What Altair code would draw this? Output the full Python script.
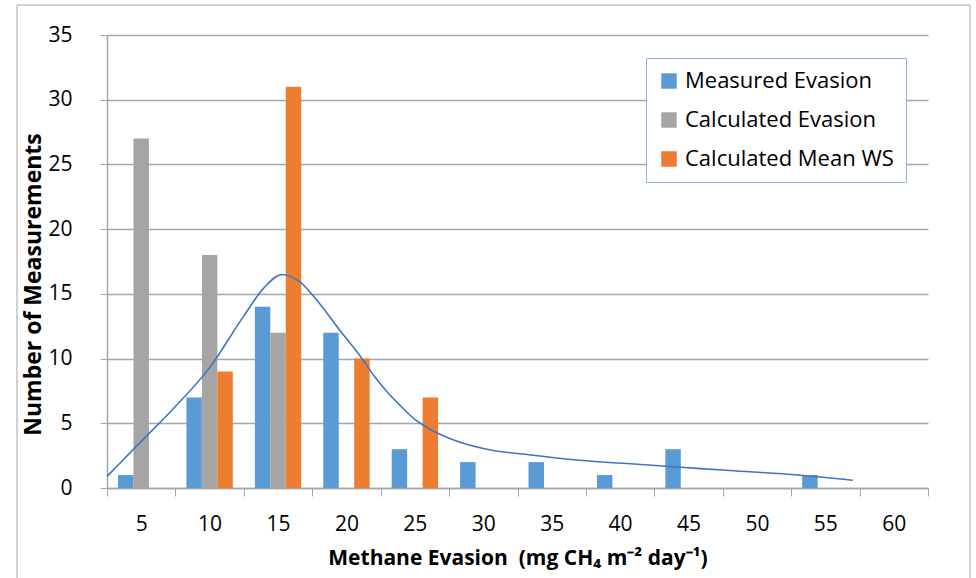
import altair as alt
import pandas as pd

# Histogram classes of methane evasion (mg CH4 m-2 day-1)
bins = [5, 10, 15, 20, 25, 30, 35, 40, 45, 50, 55, 60]
measured = [1, 7, 14, 12, 3, 2, 2, 1, 3, 0, 1, 0]
calc_evasion = [27, 18, 12, 0, 0, 0, 0, 0, 0, 0, 0, 0]
calc_mean_ws = [0, 9, 31, 10, 7, 0, 0, 0, 0, 0, 0, 0]

series_names = ["Measured Evasion", "Calculated Evasion", "Calculated Mean WS"]
series_colors = ["#5B9BD5", "#A5A5A5", "#ED7D31"]

# Smoothed fit through the measured distribution
curve_x = [2.5, 5, 7.5, 10, 12.5, 14, 15.3, 16.5, 18, 19.5, 21, 22, 23, 24, 25,
           26, 27.5, 30, 33.5, 37, 41, 44.5, 48, 53, 57]
curve_y = [0.9, 3.6, 6.3, 9.3, 13.3, 15.5, 16.5, 16.0, 14.3, 12.2, 10.2, 8.7,
           7.4, 6.3, 5.3, 4.6, 3.85, 3.05, 2.55, 2.15, 1.85, 1.6, 1.35, 1.0, 0.6]

FONT = "Open Sans"
BAR_W = 1.13  # bar width in x units (one class spans 5 units)

rows = []
for k, (name, vals) in enumerate(zip(series_names, [measured, calc_evasion, calc_mean_ws])):
    for b, v in zip(bins, vals):
        if v > 0:
            rows.append({"bin": b, "series": name, "idx": k, "count": v})
bars_df = pd.DataFrame(rows)
curve_df = pd.DataFrame({"x": curve_x, "y": curve_y})

x_scale = alt.Scale(domain=[2.5, 62.5], nice=False, zero=False)
y_scale = alt.Scale(domain=[0, 35], nice=False)

boundaries = [b - 2.5 for b in bins] + [bins[-1] + 2.5]

x_axis = alt.Axis(
    values=boundaries,
    labelExpr="datum.value < 60 ? format(datum.value + 2.5, 'd') : ''",
    labelOffset=34.2,
    labelFlush=False,
    labelOverlap=False,
    grid=False,
    tickSize=8,
    tickColor="#A6A6A6",
    domainColor="#A6A6A6",
    domainWidth=1.5,
    labelPadding=17,
    labelFont=FONT,
    labelFontSize=21,
    labelColor="#000000",
    title="Methane Evasion\u00a0 (mg CH\u2084 m\u207b\u00b2 day\u207b\u00b9)",
    titleFont=FONT,
    titleFontSize=21,
    titleFontWeight="bold",
    titleColor="#000000",
    titlePadding=13,
)

y_axis = alt.Axis(
    values=[0, 5, 10, 15, 20, 25, 30, 35],
    grid=True,
    gridColor="#A6A6A6",
    gridWidth=1.5,
    tickSize=7,
    tickColor="#A6A6A6",
    domainColor="#A6A6A6",
    domainWidth=1.5,
    labelPadding=28,
    labelFont=FONT,
    labelFontSize=21,
    labelColor="#000000",
    title="Number of Measurements",
    titleFont=FONT,
    titleFontSize=23,
    titleFontWeight="bold",
    titleColor="#000000",
    titlePadding=2,
    titleY=249,
)

bars = (
    alt.Chart(bars_df)
    .transform_calculate(
        x0=f"datum.bin - {1.5 * BAR_W} + datum.idx * {BAR_W}",
        x1=f"datum.bin - {1.5 * BAR_W} + (datum.idx + 1) * {BAR_W}",
    )
    .mark_rect()
    .encode(
        x=alt.X("x0:Q", scale=x_scale, axis=x_axis),
        x2="x1:Q",
        y=alt.Y("count:Q", scale=y_scale, axis=y_axis),
        y2=alt.datum(0),
        color=alt.Color(
            "series:N",
            scale=alt.Scale(domain=series_names, range=series_colors),
            legend=alt.Legend(
                title=None,
                orient="none",
                legendX=539,
                legendY=23,
                direction="vertical",
                symbolType="square",
                symbolSize=240,
                symbolStrokeWidth=0,
                labelFont=FONT,
                labelFontSize=22,
                labelLimit=400,
                labelColor="#000000",
                labelOffset=5,
                rowPadding=17,
                padding=12,
                strokeColor="#8FB4E3",
                fillColor="#FFFFFF",
            ),
        ),
    )
)

curve = (
    alt.Chart(curve_df)
    .mark_line(interpolate="monotone", color="#4472C4", strokeWidth=1.6)
    .encode(x=alt.X("x:Q", scale=x_scale), y=alt.Y("y:Q", scale=y_scale))
)

frame = (
    alt.Chart(pd.DataFrame({"k": [0]}))
    .mark_rect(fillOpacity=0, stroke="#A6A6A6", strokeWidth=1)
    .encode(x=alt.value(-90), x2=alt.value(863), y=alt.value(-30), y2=alt.value(570))
)

chart = (
    alt.layer(frame, bars, curve)
    .properties(
        width=821,
        height=453,
        autosize=alt.AutoSizeParams(type="none"),
        padding={"left": 107, "top": 35, "right": 48, "bottom": 90},
        background="#FFFFFF",
    )
    .configure_view(strokeWidth=0)
)

chart.save("out.html", embed_options={"renderer": "svg", "actions": False})
